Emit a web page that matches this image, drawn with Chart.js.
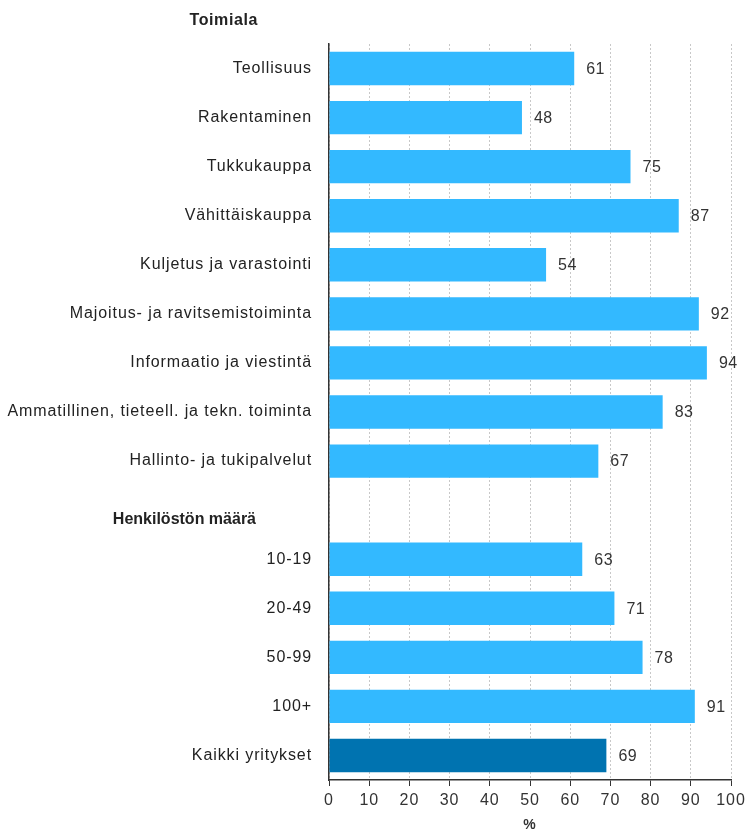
<!DOCTYPE html>
<html>
<head>
<meta charset="utf-8">
<script src="https://cdn.jsdelivr.net/npm/chart.js@4/dist/chart.umd.min.js"></script>
<style>
  html, body { margin: 0; padding: 0; background: #fff; }
  #wrap { width: 748px; height: 834px; }
</style>
</head>
<body>
<div id="wrap"><canvas id="chart"></canvas></div>
<script>
// Categories (empty slot = where the "Henkilöstön määrä" heading sits)
const categories = [
  'Teollisuus', 'Rakentaminen', 'Tukkukauppa', 'Vähittäiskauppa',
  'Kuljetus ja varastointi', 'Majoitus- ja ravitsemistoiminta',
  'Informaatio ja viestintä', 'Ammatillinen, tieteell. ja tekn. toiminta',
  'Hallinto- ja tukipalvelut', '',
  '10-19', '20-49', '50-99', '100+', 'Kaikki yritykset'
];
const values = [61, 48, 75, 87, 54, 92, 94, 83, 67, null, 63, 71, 78, 91, 69];
const headings = ['Toimiala', 'Henkilöstön määrä'];
const xTicks = [0, 10, 20, 30, 40, 50, 60, 70, 80, 90, 100];

const LIGHT = '#33b9ff';
const DARK = '#0073b0';
const FONT = '"Liberation Sans", Arial, sans-serif';

// slightly spaced lettering like the original
const spacingPlugin = {
  id: 'spacing',
  beforeDraw(chart) { chart.ctx.letterSpacing = '0.9px'; }
};

// value labels next to bar ends + the two bold headings
const labelsPlugin = {
  id: 'labels',
  afterDatasetsDraw(chart) {
    const { ctx } = chart;
    const meta = chart.getDatasetMeta(0);
    ctx.save();
    ctx.letterSpacing = '0.5px';
    ctx.font = '16px ' + FONT;
    ctx.fillStyle = '#333';
    ctx.textBaseline = 'middle';
    ctx.textAlign = 'left';
    meta.data.forEach((bar, i) => {
      if (values[i] == null) return;
      ctx.fillText(values[i], bar.x + 12, bar.y + 1);
    });

    const y = chart.scales.y;
    const step = y.getPixelForValue(1) - y.getPixelForValue(0);
    ctx.textAlign = 'right';
    ctx.fillStyle = '#222';
    ctx.letterSpacing = '0.6px';
    ctx.font = 'bold 16px ' + FONT;
    ctx.fillText(headings[0], 258, y.getPixelForValue(0) - step + 1);
    ctx.letterSpacing = '0px';
    ctx.font = 'bold 16px ' + FONT;
    ctx.fillText(headings[1], 256, y.getPixelForValue(9) + 9);
    ctx.restore();
  }
};

new Chart(document.getElementById('chart'), {
  type: 'bar',
  data: {
    labels: categories,
    datasets: [{
      data: values,
      backgroundColor: values.map((v, i) => i === values.length - 1 ? DARK : LIGHT),
      borderWidth: 0,
      barPercentage: 0.68,
      categoryPercentage: 1
    }]
  },
  options: {
    indexAxis: 'y',
    responsive: true,
    maintainAspectRatio: false,
    animation: false,
    layout: { padding: { top: 44, right: 17, left: 0, bottom: 0 } },
    plugins: { legend: { display: false }, tooltip: { enabled: false } },
    scales: {
      x: {
        min: 0,
        max: 100,
        afterBuildTicks: s => { s.ticks = xTicks.map(v => ({ value: v })); },
        afterFit: s => { s.height = 54; s.paddingRight = 0; },
        grid: { color: '#c8c8c8', tickColor: '#333', tickLength: 6, lineWidth: 1 },
        border: { display: true, color: '#333', width: 1.5, dash: [2, 2] },
        ticks: { color: '#333', font: { family: FONT, size: 16 }, padding: 5, maxRotation: 0 },
        title: { display: true, text: '%', color: '#333', font: { family: FONT, size: 14, weight: 'bold' }, padding: { top: 4, bottom: 0 } }
      },
      y: {
        afterFit: s => { s.width = 329; },
        grid: { display: false, drawTicks: false },
        border: { display: true, color: '#333', width: 1.5 },
        ticks: { color: '#222', font: { family: FONT, size: 16 }, padding: 17, autoSkip: false }
      }
    }
  },
  plugins: [spacingPlugin, labelsPlugin]
});
</script>
</body>
</html>
